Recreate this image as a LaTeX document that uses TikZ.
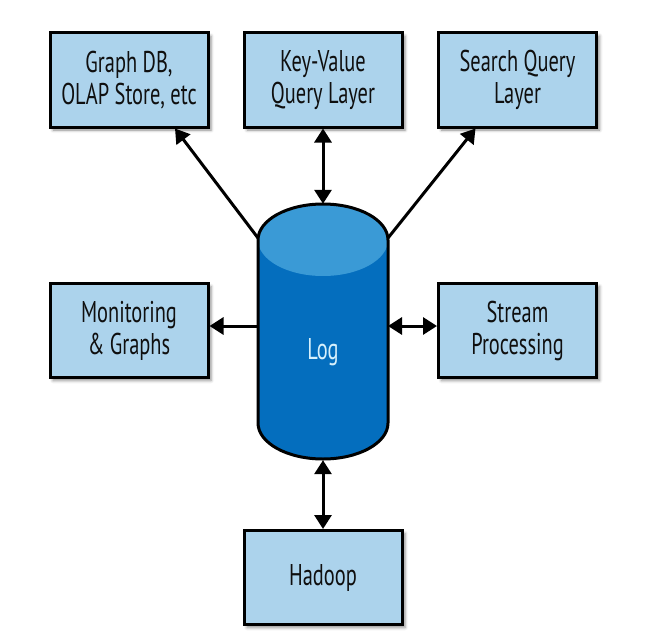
\documentclass[tikz,border=0pt]{standalone}
\usepackage{fontspec}
\setmainfont{PT Sans}[FakeStretch=0.68]
\usetikzlibrary{arrows.meta,shadows.blur}
\definecolor{boxfill}{RGB}{172,211,236}
\definecolor{logbody}{RGB}{4,110,190}
\definecolor{logtop}{RGB}{58,154,214}
\definecolor{logtext}{RGB}{214,240,252}
\definecolor{txt}{RGB}{15,15,15}
\tikzset{
  box/.style={draw=black, line width=3pt, fill=boxfill, minimum width=158pt, minimum height=94pt,
    align=center, font=\fontsize{30}{32}\selectfont, text=txt,
    blur shadow={shadow xshift=3pt, shadow yshift=-3pt, shadow blur radius=3pt, shadow opacity=45}},
  arr/.style={line width=3pt, -{Triangle[length=14pt,width=17pt]}},
  darr/.style={line width=3pt, {Triangle[length=14pt,width=17pt]}-{Triangle[length=14pt,width=17pt]}},
}
\begin{document}
\begin{tikzpicture}[x=1pt,y=-1pt]
\useasboundingbox (0,0) rectangle (650,642);
% boxes
\node[box] (gdb) at (129,80) {Graph DB,\\OLAP Store, etc};
\node[box] (kv) at (323,80) {Key-Value\\Query Layer};
\node[box] (sq) at (517.5,80) {Search Query\\Layer};
\node[box] (mon) at (129,330.5) {Monitoring\\\& Graphs};
\node[box] (st) at (517.5,330.5) {Stream\\Processing};
\node[box] (had) at (323,577.5) {Hadoop};
% cylinder
\fill[logbody] (258,240) -- (258,423) arc[start angle=180,end angle=0,x radius=65,y radius=36] -- (388,240) -- cycle;
\fill[logtop] (323,240) ellipse[x radius=65,y radius=36];
\draw[line width=3pt] (258,240) arc[start angle=180,end angle=360,x radius=65,y radius=36]
  -- (388,423) arc[start angle=0,end angle=180,x radius=65,y radius=36] -- cycle;
\node[minimum width=130pt, minimum height=256pt, inner sep=0pt] (log) at (323,332) {};
\node[text=logtext, font=\fontsize{30}{32}\selectfont] (logl) at (323,352) {Log};
\coordinate (lognw) at (258,238);
\coordinate (logne) at (388,238);
\coordinate (logw) at (258,326);
\coordinate (loge) at (388,326);
% connectors
\draw[arr] (lognw) -- ([xshift=46pt]gdb.south);
\draw[arr] (logne) -- ([xshift=-42pt]sq.south);
\draw[darr] (kv.south) -- (log.north);
\draw[arr] (logw) -- (mon.east |- logw);
\draw[darr] (loge) -- (st.west |- loge);
\draw[darr] (log.south) -- (had.north);
\end{tikzpicture}
\end{document}
